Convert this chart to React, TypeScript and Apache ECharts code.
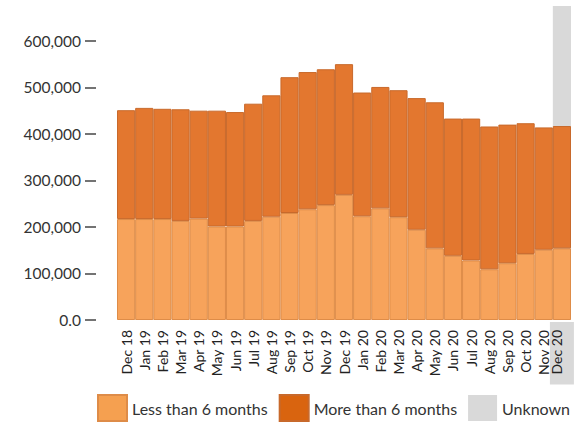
import React, { useEffect, useRef } from "react";
import * as echarts from "echarts";

const categories = [
  "Dec 18", "Jan 19", "Feb 19", "Mar 19", "Apr 19", "May 19", "Jun 19",
  "Jul 19", "Aug 19", "Sep 19", "Oct 19", "Nov 19", "Dec 19", "Jan 20",
  "Feb 20", "Mar 20", "Apr 20", "May 20", "Jun 20", "Jul 20", "Aug 20",
  "Sep 20", "Oct 20", "Nov 20", "Dec 20",
];

const lessThan6Months = [
  217000, 217000, 217000, 213000, 218000, 201000, 201000, 213000, 222000,
  230000, 238000, 247000, 269000, 223000, 240000, 221000, 194000, 154000,
  138000, 128000, 109000, 122000, 142000, 151000, 154000,
];

const moreThan6Months = [
  234000, 239000, 237000, 240000, 232000, 249000, 246000, 252000, 261000,
  292000, 295000, 292000, 281000, 266000, 261000, 273000, 283000, 314000,
  295000, 305000, 307000, 298000, 281000, 263000, 263000,
];

const yTicks = [0, 100000, 200000, 300000, 400000, 500000, 600000];
const yMax = 675000;
const highlightedCategory = "Dec 20";

const FONT = "Lato";

export default function App() {
  const ref = useRef<HTMLDivElement>(null);

  useEffect(() => {
    if (!ref.current) return;
    const chart = echarts.init(ref.current, undefined, { renderer: "svg" });

    const unknownData = categories.map((c) => (c === highlightedCategory ? yMax : null));

    chart.setOption({
      animation: false,
      textStyle: { fontFamily: FONT },
      grid: { left: 117, right: 16, top: 6, bottom: 102, containLabel: false },
      legend: {
        left: 97,
        top: 394,
        padding: 0,
        itemWidth: 29,
        itemHeight: 26,
        itemGap: 11,
        icon: "rect",
        selectedMode: false,
        textStyle: { fontSize: 16, color: "#333", fontFamily: FONT },
        data: [
          { name: "Less than 6 months", itemStyle: { color: "#F5A050" } },
          { name: "More than 6 months", itemStyle: { color: "#D9640F" } },
          { name: "Unknown", itemStyle: { color: "#D9D9D9" } },
        ],
      },
      xAxis: [
        {
          type: "category",
          data: categories,
          boundaryGap: true,
          axisLine: { show: false },
          axisTick: { show: false },
          axisLabel: {
            rotate: 90,
            interval: 0,
            margin: 2,
            fontSize: 14,
            color: "#222",
            fontFamily: FONT,
            formatter: (v: string) => (v === highlightedCategory ? `{hl|${v}}` : `{n|${v}}`),
            rich: {
              n: {
                padding: [0, 8, 0, 0],
                lineHeight: 16,
                fontSize: 14,
                color: "#222",
                fontFamily: FONT,
              },
              hl: {
                backgroundColor: "#D9D9D9",
                padding: [0, 8, 10, 10],
                lineHeight: 16,
                fontSize: 14,
                color: "#222",
                fontFamily: FONT,
              },
            },
          },
        },
        {
          type: "category",
          data: categories,
          show: false,
        },
      ],
      yAxis: {
        type: "value",
        min: 0,
        max: yMax,
        interval: 100000,
        offset: 21,
        splitLine: { show: false },
        axisLine: { show: false },
        axisTick: {
          show: true,
          length: 11,
          customValues: yTicks,
          lineStyle: { color: "#444", width: 1.5 },
        },
        axisLabel: {
          margin: 15,
          fontSize: 15.5,
          color: "#333",
          fontFamily: FONT,
          customValues: yTicks,
          formatter: (v: number) => (v === 0 ? "0.0" : v.toLocaleString("en-US")),
        },
      },
      series: [
        {
          name: "Unknown",
          type: "bar",
          xAxisIndex: 1,
          data: unknownData,
          barCategoryGap: "0%",
          z: 1,
          silent: true,
          itemStyle: { color: "#D9D9D9" },
        },
        {
          name: "Less than 6 months",
          type: "bar",
          stack: "total",
          data: lessThan6Months,
          barCategoryGap: "0%",
          z: 2,
          itemStyle: { color: "#F7A35B", borderColor: "#DE8C48", borderWidth: 1 },
        },
        {
          name: "More than 6 months",
          type: "bar",
          stack: "total",
          data: moreThan6Months,
          barCategoryGap: "0%",
          z: 2,
          itemStyle: { color: "#E3772F", borderColor: "#C8692B", borderWidth: 1 },
        },
      ],
    });

    return () => chart.dispose();
  }, []);

  return (
    <div
      ref={ref}
      style={{ position: "fixed", left: 0, top: 0, width: 587, height: 422, background: "#fff" }}
    />
  );
}
